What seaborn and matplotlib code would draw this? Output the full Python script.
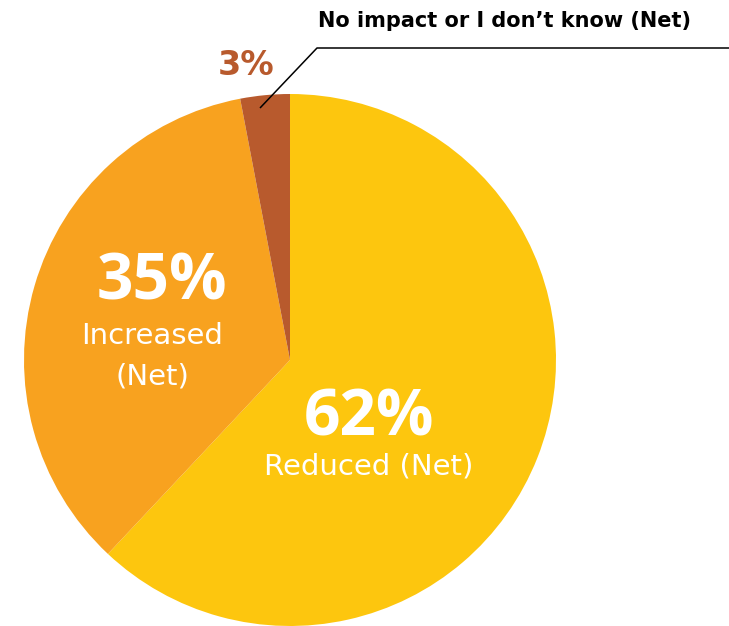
import matplotlib
matplotlib.use("Agg")
import matplotlib.pyplot as plt
import seaborn as sns

# Survey result shares
categories = ["Reduced (Net)", "Increased (Net)", "No impact or I don't know (Net)"]
shares = [62, 35, 3]
pct_labels = ["62%", "35%", "3%"]
colors = ["#FDC60E", "#F8A21F", "#B85A2D"]

sns.set_theme(style="white")
plt.rcParams["font.family"] = ["DejaVu Sans"]
big_font = ["Open Sans", "DejaVu Sans"]

W, H = 729, 626
fig = plt.figure(figsize=(W / 100, H / 100), dpi=100)
ax = fig.add_axes([0, 0, 1, 1])

palette = sns.color_palette(colors)
ax.pie(shares, colors=palette, startangle=90, counterclock=False,
       center=(290, 266), radius=266, frame=True,
       wedgeprops=dict(linewidth=0))
ax.set_xlim(0, W)
ax.set_ylim(0, H)
ax.axis("off")

# Slice annotations
ax.text(369, 190, pct_labels[0], ha="center", va="baseline", color="white",
        fontsize=46, fontweight="bold", family=big_font)
ax.text(369, 152, categories[0], ha="center", va="baseline", color="white",
        fontsize=21)
ax.text(162, 326, pct_labels[1], ha="center", va="baseline", color="white",
        fontsize=46, fontweight="bold", family=big_font)
ax.text(152, 282, "Increased", ha="center", va="baseline", color="white",
        fontsize=21)
ax.text(152, 242, "(Net)", ha="center", va="baseline", color="white",
        fontsize=21)
ax.text(246, 551, pct_labels[2], ha="center", va="baseline", color=colors[2],
        fontsize=24, fontweight="bold")
ax.text(505, 599, categories[2].replace("'", "\u2019"), ha="center",
        va="baseline", color="black", fontsize=15, fontweight="bold")

# Leader line for the small slice
ax.plot([260, 317, 729], [518, 578, 578], color="black", lw=1.1,
        solid_capstyle="butt", clip_on=False)

fig.savefig("out.png", dpi=100)
